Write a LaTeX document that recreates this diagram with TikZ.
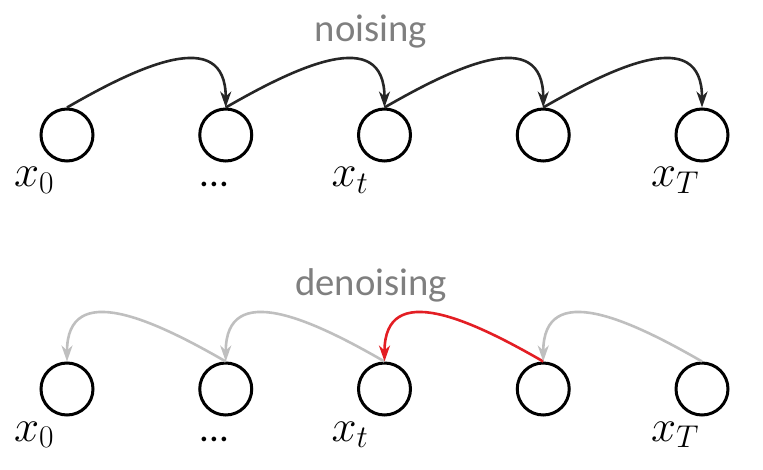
\documentclass[tikz,border=0pt]{standalone}
\usepackage{fix-cm}
\usepackage{fontspec}
\usepackage{xcolor}
\usepackage{amsmath}
\usepackage{tikz}
\usetikzlibrary{arrows.meta,automata}
\newfontfamily\calfont{Carlito}
\definecolor{titlegray}{RGB}{127,127,127}
\definecolor{arrowdark}{RGB}{38,38,38}
\definecolor{arrowlight}{RGB}{191,191,191}
\definecolor{arrowred}{RGB}{227,30,36}

\begin{document}
\begin{tikzpicture}[x=1pt,y=-1pt,node distance = 158.75pt,auto,inner sep=0pt,
  every state/.style={draw=black,circle,line width=3pt,minimum size=52pt},
  lbl/.style={anchor=base west,font=\fontsize{45}{50}\selectfont},
  ttl/.style={anchor=base,text=titlegray,font=\calfont\fontsize{38.7}{44}\selectfont},
  fwd/.style={-{Stealth[length=16pt,width=11pt,inset=5pt]},line width=2.6pt,draw=arrowdark,out=30,in=90,looseness=1.33},
  bwd/.style={-{Stealth[length=16pt,width=11pt,inset=5pt]},line width=2.6pt,draw=arrowlight,out=150,in=90,looseness=1.33}]
\useasboundingbox (0,0) rectangle (763,470);

% noising
\node[ttl] (N) at (371,42) {noising};
\node[state] (A) at (67,135) {};
\node[state] (B) [right of = A] {};
\node[state] (C) [right of = B] {};
\node[state] (D) [right of = C] {};
\node[state] (E) [right of = D] {};

\node[lbl] (lA) at ([xshift=-53pt,yshift=-52pt]A.center) {$x_0$};
\node[lbl,font=\calfont\fontsize{38.7}{44}\selectfont] (lB) at ([xshift=-26pt,yshift=-52pt]B.center) {...};
\node[lbl] (lC) at ([xshift=-53pt,yshift=-52pt]C.center) {$x_t$};
\node[lbl] (lE) at ([xshift=-51pt,yshift=-52pt]E.center) {$x_T$};

\path (A.north) edge [fwd] (B.north);
\path (B.north) edge [fwd] (C.north);
\path (C.north) edge [fwd] (D.north);
\path (D.north) edge [fwd] (E.north);

% denoising
\node[ttl] (M) at (371,296) {denoising};
\node[state,node distance = 254pt] (F) [below of = A] {};
\node[state] (G) [right of = F] {};
\node[state] (H) [right of = G] {};
\node[state] (I) [right of = H] {};
\node[state] (J) [right of = I] {};

\node[lbl] (lF) at ([xshift=-53pt,yshift=-52pt]F.center) {$x_0$};
\node[lbl,font=\calfont\fontsize{38.7}{44}\selectfont] (lG) at ([xshift=-26pt,yshift=-52pt]G.center) {...};
\node[lbl] (lH) at ([xshift=-53pt,yshift=-52pt]H.center) {$x_t$};
\node[lbl] (lJ) at ([xshift=-51pt,yshift=-52pt]J.center) {$x_T$};

\path (G.north) edge [bwd] (F.north);
\path (H.north) edge [bwd] (G.north);
\path (I.north) edge [bwd,draw=arrowred] (H.north);
\path (J.north) edge [bwd] (I.north);

\end{tikzpicture}
\end{document}
